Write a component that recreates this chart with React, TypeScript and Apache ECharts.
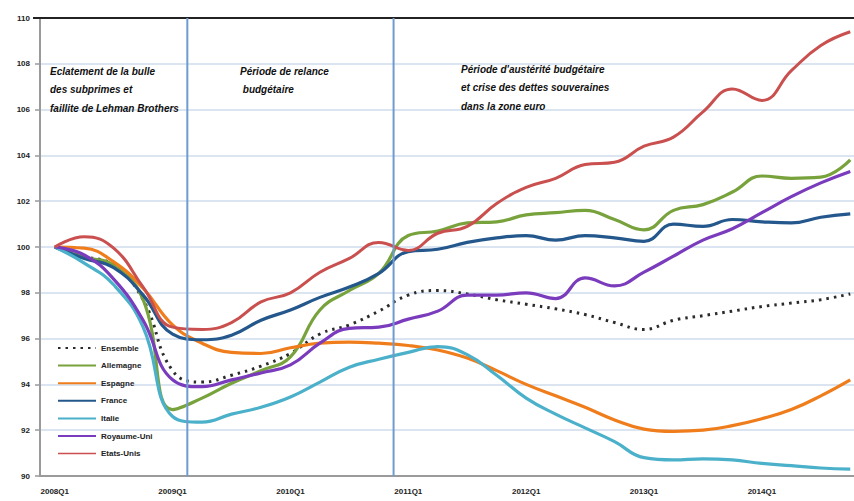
import React, { useEffect, useRef } from "react";
import * as echarts from "echarts";

const categories = [
  "2008Q1", "2008Q2", "2008Q3", "2008Q4",
  "2009Q1", "2009Q2", "2009Q3", "2009Q4",
  "2010Q1", "2010Q2", "2010Q3", "2010Q4",
  "2011Q1", "2011Q2", "2011Q3", "2011Q4",
  "2012Q1", "2012Q2", "2012Q3", "2012Q4",
  "2013Q1", "2013Q2", "2013Q3", "2013Q4",
  "2014Q1", "2014Q2", "2014Q3", "2014Q4",
];

const ensemble = [100, 99.6, 99.2, 97.7, 94.6, 94.1, 94.4, 94.8, 95.35, 96.2, 96.6, 97.2, 97.9, 98.1, 97.95, 97.7, 97.5, 97.3, 97.05, 96.7, 96.4, 96.8, 97.0, 97.2, 97.4, 97.55, 97.7, 97.95];
const allemagne = [100, 99.55, 99.2, 97.7, 92.9, 93.4, 94.05, 94.6, 95.2, 97.25, 98.1, 98.85, 100.5, 100.7, 101.05, 101.1, 101.4, 101.5, 101.6, 101.2, 100.75, 101.6, 101.85, 102.4, 103.1, 103.0, 103.05, 103.8];
const espagne = [100, 99.95, 99.35, 98.2, 96.6, 95.8, 95.4, 95.35, 95.6, 95.8, 95.85, 95.8, 95.7, 95.5, 95.15, 94.6, 94.0, 93.5, 93.0, 92.45, 92.05, 91.95, 92.0, 92.2, 92.5, 92.9, 93.5, 94.2];
const france = [100, 99.5, 99.1, 97.9, 96.2, 95.95, 96.15, 96.8, 97.25, 97.8, 98.25, 98.85, 99.8, 99.9, 100.2, 100.4, 100.5, 100.3, 100.5, 100.4, 100.25, 101.0, 100.9, 101.2, 101.1, 101.05, 101.3, 101.45];
const italie = [100, 99.3, 98.35, 96.5, 92.6, 92.35, 92.7, 93.0, 93.45, 94.1, 94.75, 95.1, 95.4, 95.65, 95.3, 94.4, 93.4, 92.7, 92.1, 91.5, 90.8, 90.7, 90.75, 90.7, 90.55, 90.45, 90.35, 90.3];
const royaumeUni = [100, 99.65, 98.6, 96.8, 94.2, 93.9, 94.2, 94.5, 94.85, 95.8, 96.45, 96.5, 96.85, 97.2, 97.9, 97.9, 98.0, 97.75, 98.65, 98.3, 98.9, 99.6, 100.3, 100.8, 101.5, 102.2, 102.8, 103.3];
const etatsUnis = [100, 100.45, 99.95, 98.25, 96.5, 96.4, 96.7, 97.6, 98.0, 98.9, 99.5, 100.2, 99.85, 100.6, 100.9, 101.9, 102.6, 103.0, 103.6, 103.7, 104.4, 104.8, 105.9, 106.9, 106.4, 107.7, 108.8, 109.4];

const seriesNames = ["Ensemble", "Allemagne", "Espagne", "France", "Italie", "Royaume-Uni", "Etats-Unis"];
const seriesData = [ensemble, allemagne, espagne, france, italie, royaumeUni, etatsUnis];
const seriesColors = ["#2b2b2b", "#78a23c", "#f07d1c", "#24578c", "#4bb0c9", "#7a3cbc", "#c9504e"];

const annotations = [
  { lines: ["Eclatement de la bulle", "des subprimes et", "faillite de Lehman Brothers"], x: 50, y: 66 },
  { lines: ["Période de relance", " budgétaire"], x: 240, y: 66 },
  { lines: ["Période d'austérité budgétaire", "et crise des dettes souveraines", "dans la zone euro"], x: 461, y: 64 },
];

export default function App() {
  const ref = useRef<HTMLDivElement>(null);

  useEffect(() => {
    document.body.style.margin = "0";
    const chart = echarts.init(ref.current as HTMLDivElement, null, { renderer: "svg" });

    const series = seriesNames.map((name, i) => ({
      name,
      type: "line",
      data: seriesData[i],
      smooth: 0.45,
      symbol: "none",
      z: 3,
      lineStyle:
        i === 0
          ? { color: seriesColors[i], width: 3, type: [2.5, 5], cap: "butt" }
          : { color: seriesColors[i], width: i === 6 ? 3 : 3.2 },
      itemStyle: { color: seriesColors[i] },
    }));

    chart.setOption({
      animation: false,
      backgroundColor: "#ffffff",
      grid: { left: 40, top: 18, bottom: 25, width: 825, containLabel: false, outerBoundsMode: "none" },
      legend: {
        orient: "vertical",
        left: 52,
        top: 339,
        itemWidth: 38,
        itemHeight: 10,
        itemGap: 9.6,
        itemStyle: { opacity: 0 },
        textStyle: { fontSize: 8, fontWeight: "bold", color: "#222", fontFamily: "Liberation Sans" },
        data: seriesNames.map((n, i) => (i === 6 ? { name: n, lineStyle: { width: 1.5 } } : { name: n })),
      },
      xAxis: {
        type: "category",
        data: categories,
        boundaryGap: true,
        axisLine: { lineStyle: { color: "#9a9a9a", width: 2 } },
        axisTick: { interval: 0, length: 5, lineStyle: { color: "#9a9a9a", width: 1.5 } },
        axisLabel: {
          interval: 3,
          fontSize: 8,
          fontWeight: "bold",
          color: "#222",
          margin: 11,
          fontFamily: "Liberation Sans",
        },
        splitLine: { show: false },
      },
      yAxis: {
        type: "value",
        min: 90,
        max: 110,
        interval: 2,
        axisLine: { show: true, lineStyle: { color: "#9a9a9a", width: 2 } },
        axisTick: { show: true, length: 5, lineStyle: { color: "#9a9a9a", width: 1.5 } },
        axisLabel: { fontSize: 8, fontWeight: "bold", color: "#222", margin: 10, fontFamily: "Liberation Sans" },
        splitLine: { lineStyle: { color: "#dbe5f1", width: 2 } },
      },
      series,
    });

    const xa = (i: number) => chart.convertToPixel({ xAxisIndex: 0 }, categories[i]) as number;
    const yTop = chart.convertToPixel({ yAxisIndex: 0 }, 110) as number;
    const yBot = chart.convertToPixel({ yAxisIndex: 0 }, 90) as number;
    const v1 = (xa(4) + xa(5)) / 2;
    const v2 = (xa(11) + xa(12)) / 2;

    const graphics: any[] = [
      { type: "line", z: 10, shape: { x1: 33, y1: yTop, x2: 854, y2: yTop }, style: { stroke: "#222", lineWidth: 2 } },
      { type: "line", z: 10, shape: { x1: v1, y1: yTop, x2: v1, y2: yBot }, style: { stroke: "#6f9bd0", lineWidth: 2 } },
      { type: "line", z: 10, shape: { x1: v2, y1: yTop, x2: v2, y2: yBot }, style: { stroke: "#6f9bd0", lineWidth: 2 } },
    ];
    annotations.forEach((a) => {
      a.lines.forEach((t, k) => {
        graphics.push({
          type: "text",
          z: 11,
          x: a.x,
          y: a.y + k * 18.5,
          style: {
            text: t,
            fill: "#111",
            fontSize: 10,
            fontWeight: "bold",
            fontStyle: "italic",
            fontFamily: "Liberation Sans",
          },
        });
      });
    });
    chart.setOption({ graphic: graphics });

    return () => chart.dispose();
  }, []);

  return <div ref={ref} style={{ width: 854, height: 501 }} />;
}
